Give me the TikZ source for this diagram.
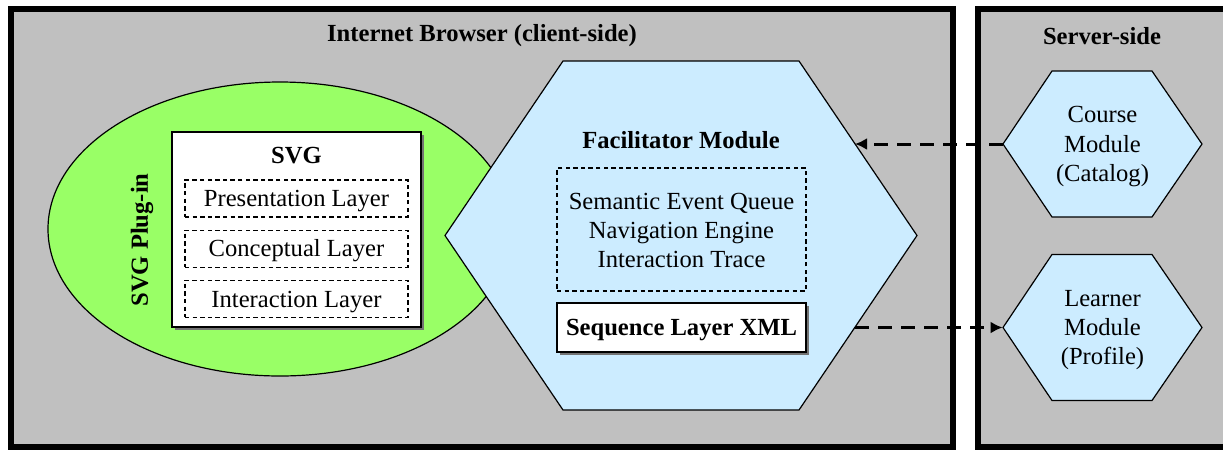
\documentclass[tikz,border=0pt]{standalone}
\usepackage{fontspec}
\setmainfont{Liberation Serif}
\usetikzlibrary{positioning,arrows.meta,shadows}
\definecolor{panelgray}{RGB}{192,192,192}
\definecolor{plugingreen}{RGB}{153,255,102}
\definecolor{modblue}{RGB}{204,236,255}
\begin{document}
\begin{tikzpicture}[x=0.5pt,y=-0.5pt,
    font=\fontsize{12.3}{14.7}\selectfont,
    bold/.style={font=\fontsize{12.3}{14.7}\selectfont\bfseries},
    panel/.style={fill=panelgray,draw=black,line width=3pt},
    hexmod/.style={fill=modblue,draw=black,line width=0.6pt},
    dashbox/.style={draw=black,dash pattern=on 2.2pt off 1.6pt,line width=0.6pt,inner sep=0pt},
    layerbox/.style={dashbox,minimum width=111.5pt,minimum height=18.5pt,text height=8.2pt,text depth=0pt},
    whitebox/.style={fill=white,draw=black,line width=0.6pt,inner sep=0pt,
        drop shadow={shadow xshift=1.5pt,shadow yshift=-1.5pt,opacity=1,fill=black!55}},
    link/.style={line width=1.5pt,dash pattern=on 7pt off 4.5pt,-{Latex[length=6pt,width=6pt]}}]
    \useasboundingbox (0,0) rectangle (1223,452);
    \clip (0,0) rectangle (1223,452);
    \draw[panel] (11,9) rectangle (953,447);
    \draw[panel] (978,9) rectangle (1240,447);
    \node[bold] (browser) at (482,36) {Internet Browser (client-side)};
    \node[bold] (server) at (1102,36) {Server-side};
    \draw[fill=plugingreen,line width=0.6pt] (280,229) ellipse [x radius=116pt,y radius=73.5pt];
    \node[bold,rotate=90] (plugin) at (142,240) {SVG Plug-in};
    \node[whitebox,minimum width=124.5pt,minimum height=97.5pt] (svgbox) at (296.5,229.5) {};
    \node[bold] (svg) at (296.5,156) {SVG};
    \node[layerbox] (pres) at (296.5,198.5) {Presentation Layer};
    \node[layerbox,below=6pt of pres] (concept) {Conceptual Layer};
    \node[layerbox,below=6pt of concept] (interact) {Interaction Layer};
    \draw[hexmod] (445,235.5) -- (563,61) -- (799,61) -- (917,235.5) -- (799,410) -- (563,410) -- cycle;
    \node[bold] (facil) at (681,140) {Facilitator Module};
    \node[dashbox,minimum width=124.5pt,minimum height=61.5pt] (engine) at (681.5,229.5) {};
    \node[align=center] (enginetext) at (681.5,230.5) {Semantic Event Queue\\Navigation Engine\\Interaction Trace};
    \node[whitebox,bold,minimum width=124.5pt,minimum height=24.5pt,text height=8.2pt,text depth=0pt] (seq) at (681.5,327.5) {Sequence Layer XML};
    \foreach \y/\m/\t in {144/course/{Course\\Module\\(Catalog)},327.5/learner/{Learner\\Module\\(Profile)}} {
        \draw[hexmod] (1003,\y) -- ++(49,-73) -- ++(100,0) -- ++(50,73) -- ++(-50,73) -- ++(-100,0) -- cycle;
        \node[align=center,minimum width=99.5pt,inner sep=0pt,text depth=0pt] (\m) at (1102.5,\y) {\t};
    }
    \coordinate (facin) at (855,144);
    \coordinate (facout) at (855,327.5);
    \draw[link] (course.west) -- (facin);
    \draw[link] (facout) -- (learner.west);
\end{tikzpicture}
\end{document}
